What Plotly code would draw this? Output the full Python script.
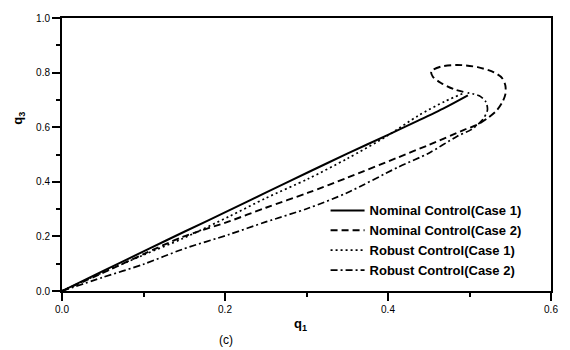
import plotly.graph_objects as go

# Nominal Control (Case 1)
nom1_q1 = [0.0, 0.05, 0.107, 0.150, 0.205, 0.250, 0.302, 0.350, 0.400, 0.437, 0.470, 0.498]
nom1_q3 = [0.0, 0.073, 0.155, 0.217, 0.295, 0.360, 0.435, 0.503, 0.572, 0.624, 0.672, 0.717]

# Nominal Control (Case 2)
nom2_q1 = [0.0, 0.05, 0.10, 0.148, 0.205, 0.250, 0.302, 0.350, 0.412, 0.450, 0.494, 0.510,
           0.523, 0.533, 0.540, 0.544, 0.544, 0.540, 0.530, 0.510, 0.485, 0.465, 0.453,
           0.455, 0.465, 0.480, 0.498]
nom2_q3 = [0.0, 0.066, 0.135, 0.198, 0.255, 0.305, 0.360, 0.415, 0.489, 0.535, 0.591, 0.610,
           0.635, 0.660, 0.690, 0.720, 0.753, 0.780, 0.801, 0.820, 0.828, 0.822, 0.805,
           0.785, 0.762, 0.740, 0.725]

# Robust Control (Case 1)
rob1_q1 = [0.0, 0.05, 0.10, 0.148, 0.205, 0.250, 0.302, 0.350, 0.400, 0.437, 0.470, 0.494]
rob1_q3 = [0.0, 0.068, 0.132, 0.192, 0.273, 0.340, 0.411, 0.485, 0.570, 0.642, 0.695, 0.726]

# Robust Control (Case 2)
rob2_q1 = [0.0, 0.05, 0.10, 0.148, 0.205, 0.250, 0.302, 0.350, 0.412, 0.450, 0.485, 0.502,
           0.516, 0.522, 0.520, 0.512, 0.498]
rob2_q3 = [0.0, 0.050, 0.098, 0.153, 0.207, 0.253, 0.303, 0.360, 0.453, 0.505, 0.567, 0.591,
           0.627, 0.663, 0.693, 0.715, 0.726]

series_names = ["Nominal Control(Case 1)", "Nominal Control(Case 2)",
                "Robust Control(Case 1)", "Robust Control(Case 2)"]

x_ticks = [0.0, 0.2, 0.4, 0.6]
y_ticks = [0.0, 0.2, 0.4, 0.6, 0.8, 1.0]

fig = go.Figure()
styles = [("solid", 2.0), ("7px,4px", 1.9), ("2px,3px", 1.7), ("7px,3px,2px,3px", 1.7)]
data = [(nom1_q1, nom1_q3), (nom2_q1, nom2_q3), (rob1_q1, rob1_q3), (rob2_q1, rob2_q3)]
for (xs, ys), name, (dash, w) in zip(data, series_names, styles):
    fig.add_trace(go.Scatter(x=xs, y=ys, mode="lines", name=name,
                             line=dict(color="black", width=w, dash=dash,
                                       shape="spline", smoothing=0.8)))

axis_common = dict(showline=True, linecolor="black", linewidth=2, mirror=True,
                   ticks="outside", ticklen=8, tickwidth=2, tickcolor="black",
                   showgrid=False, zeroline=False,
                   tickfont=dict(family="Liberation Sans, Arial", size=10, color="black"),
                   tickformat=".1f",
                   minor=dict(ticks="outside", ticklen=4, tickwidth=2,
                              tickcolor="black", dtick=0.1))

fig.update_xaxes(range=[0, 0.6], tickvals=x_ticks, **axis_common)
fig.update_yaxes(range=[0, 1.0], tickvals=y_ticks, **axis_common)

fig.update_layout(
    width=570, height=350,
    margin=dict(l=62, r=16, t=13, b=59),
    paper_bgcolor="white", plot_bgcolor="white",
    font=dict(family="Liberation Sans, Arial", color="black"),
    showlegend=True,
    legend=dict(x=0.539, y=0.35, xanchor="left", yanchor="top",
                bgcolor="rgba(0,0,0,0)", borderwidth=0,
                font=dict(family="Liberation Sans, Arial", size=13, color="black",
                          weight="bold"),
                itemwidth=34, tracegroupgap=0),
    annotations=[
        dict(text="<b>q<sub>1</sub></b>", x=0.488, y=-0.122, xref="paper", yref="paper",
             xanchor="center", yanchor="middle",
             showarrow=False, font=dict(size=13, family="Liberation Sans, Arial")),
        dict(text="<b>q<sub>3</sub></b>", x=-0.089, y=0.633, xref="paper", yref="paper",
             xanchor="center", yanchor="middle",
             showarrow=False, textangle=-90, font=dict(size=13, family="Liberation Sans, Arial")),
        dict(text="(c)", x=0.335, y=-0.178, xref="paper", yref="paper",
             xanchor="center", yanchor="middle",
             showarrow=False, font=dict(size=12, family="Liberation Sans, Arial")),
    ],
)

fig.write_html("out.html")
